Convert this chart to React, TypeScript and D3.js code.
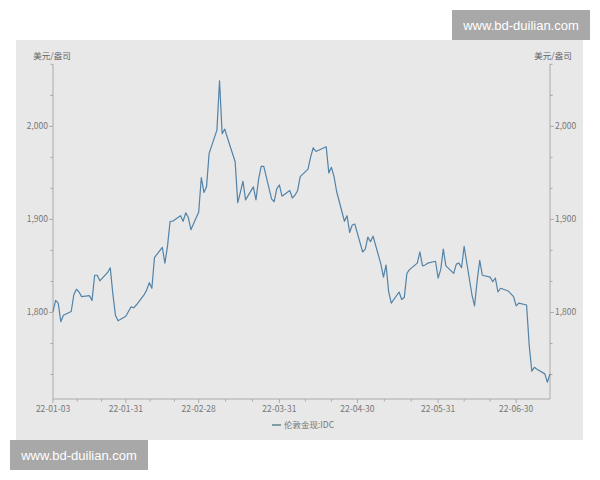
import React from "react";
import * as d3 from "d3";

const dates = [
  "2022-01-03","2022-01-04","2022-01-05","2022-01-06","2022-01-07","2022-01-10","2022-01-11","2022-01-12","2022-01-13","2022-01-14",
  "2022-01-17","2022-01-18","2022-01-19","2022-01-20","2022-01-21","2022-01-24","2022-01-25","2022-01-26","2022-01-27","2022-01-28",
  "2022-01-31","2022-02-01","2022-02-02","2022-02-03","2022-02-04","2022-02-07","2022-02-08","2022-02-09","2022-02-10","2022-02-11",
  "2022-02-14","2022-02-15","2022-02-16","2022-02-17","2022-02-18","2022-02-21","2022-02-22","2022-02-23","2022-02-24","2022-02-25",
  "2022-02-28","2022-03-01","2022-03-02","2022-03-03","2022-03-04","2022-03-07","2022-03-08","2022-03-09","2022-03-10","2022-03-11",
  "2022-03-14","2022-03-15","2022-03-16","2022-03-17","2022-03-18","2022-03-21","2022-03-22","2022-03-23","2022-03-24","2022-03-25",
  "2022-03-28","2022-03-29","2022-03-30","2022-03-31","2022-04-01","2022-04-04","2022-04-05","2022-04-06","2022-04-07","2022-04-08",
  "2022-04-11","2022-04-12","2022-04-13","2022-04-14","2022-04-18","2022-04-19","2022-04-20","2022-04-21","2022-04-22","2022-04-25",
  "2022-04-26","2022-04-27","2022-04-28","2022-04-29","2022-05-02","2022-05-03","2022-05-04","2022-05-05","2022-05-06","2022-05-09",
  "2022-05-10","2022-05-11","2022-05-12","2022-05-13","2022-05-16","2022-05-17","2022-05-18","2022-05-19","2022-05-20","2022-05-23",
  "2022-05-24","2022-05-25","2022-05-26","2022-05-27","2022-05-30","2022-05-31","2022-06-01","2022-06-02","2022-06-03","2022-06-06",
  "2022-06-07","2022-06-08","2022-06-09","2022-06-10","2022-06-13","2022-06-14","2022-06-15","2022-06-16","2022-06-17","2022-06-20",
  "2022-06-21","2022-06-22","2022-06-23","2022-06-24","2022-06-27","2022-06-28","2022-06-29","2022-06-30","2022-07-01","2022-07-04",
  "2022-07-05","2022-07-06","2022-07-07","2022-07-08","2022-07-11","2022-07-12","2022-07-13",
];

const values = [
  1801,1813,1810,1790,1797,1801,1819,1825,1822,1817,
  1818,1813,1840,1840,1834,1843,1848,1820,1797,1791,
  1796,1801,1806,1805,1808,1819,1824,1832,1826,1859,
  1870,1853,1871,1898,1898,1904,1898,1907,1902,1889,
  1908,1945,1929,1935,1971,1996,2049,1992,1997,1988,
  1962,1918,1929,1941,1921,1935,1921,1943,1957,1957,
  1922,1919,1933,1937,1925,1931,1923,1926,1931,1946,
  1954,1967,1977,1973,1978,1950,1956,1946,1930,1898,
  1904,1886,1894,1895,1865,1868,1881,1876,1882,1852,
  1838,1851,1822,1810,1822,1814,1816,1842,1846,1853,
  1865,1850,1851,1853,1855,1837,1846,1868,1850,1842,
  1852,1853,1848,1871,1819,1807,1834,1856,1840,1838,
  1833,1837,1822,1826,1823,1820,1817,1807,1810,1808,
  1765,1737,1741,1739,1734,1725,1734,
];

const xTickDates = ["2022-01-03","2022-01-31","2022-02-28","2022-03-31","2022-04-30","2022-05-31","2022-06-30"];
const xTickLabels = ["22-01-03","22-01-31","22-02-28","22-03-31","22-04-30","22-05-31","22-06-30"];
const yTicks = [1800, 1900, 2000];
const yTickLabels = ["1,800", "1,900", "2,000"];
const unitLabel = "美元/盎司";
const seriesName = "伦敦金现:IDC";
const watermark = "www.bd-duilian.com";

const parse = d3.timeParse("%Y-%m-%d");

export default function App() {
  const L = 53, R = 550, T = 64, B = 399;
  const x = d3.scaleTime().domain([parse("2022-01-03")!, parse("2022-07-13")!]).range([L, R]);
  const y = d3.scaleLinear().domain([1707, 2067]).range([B, T]);
  const pts = dates.map((d, i) => [parse(d)!, values[i]] as [Date, number]);
  const line = d3.line<[Date, number]>().x(d => x(d[0])).y(d => y(d[1]));

  // minor y ticks at thirds
  const yMinor: number[] = [];
  for (let v = 1700; v <= 2067; v += 100) {
    [1 / 3, 2 / 3].forEach(f => {
      const m = v + 100 * f;
      if (m > 1707 && m < 2067) yMinor.push(m);
    });
  }
  if (2000 + 100 / 3 < 2067) yMinor.push(2000 + 100 / 3);

  const xMajor = xTickDates.map(d => parse(d)!);
  const xMinor: Date[] = [];
  for (let i = 0; i < xMajor.length - 1; i++) {
    const a = xMajor[i].getTime(), b = xMajor[i + 1].getTime();
    xMinor.push(new Date(a + (b - a) / 3), new Date(a + (2 * (b - a)) / 3));
  }

  const axisColor = "#aaaaaa";
  const textColor = "#777777";
  const font = "'Noto Sans CJK SC', 'Noto Sans', sans-serif";

  return (
    <svg width={600} height={480} style={{ position: "absolute", left: 0, top: 0, background: "#ffffff" }}>
      <rect x={0} y={0} width={600} height={480} fill="#ffffff" />
      <rect x={16} y={40} width={567} height={400} fill="#e8e8e8" />

      {/* unit labels */}
      <text x={52} y={59} fontSize={8.5} fill="#666" textAnchor="middle" fontFamily={font}>{unitLabel}</text>
      <text x={553} y={59} fontSize={8.5} fill="#666" textAnchor="middle" fontFamily={font}>{unitLabel}</text>

      {/* left axis */}
      <line x1={L} x2={L} y1={T} y2={B} stroke={axisColor} strokeWidth={1} />
      {yTicks.map((t, i) => (
        <g key={"ly" + t}>
          <line x1={L - 4} x2={L} y1={y(t)} y2={y(t)} stroke={axisColor} />
          <text x={L - 5} y={y(t)} dy="0.35em" fontSize={8.5} fill={textColor} textAnchor="end" fontFamily={font}>{yTickLabels[i]}</text>
        </g>
      ))}
      {yMinor.map(t => (
        <line key={"lym" + t} x1={L - 2.5} x2={L} y1={y(t)} y2={y(t)} stroke={axisColor} />
      ))}

      {/* right axis */}
      <line x1={R} x2={R} y1={T} y2={B} stroke={axisColor} strokeWidth={1} />
      {yTicks.map((t, i) => (
        <g key={"ry" + t}>
          <line x1={R} x2={R + 4} y1={y(t)} y2={y(t)} stroke={axisColor} />
          <text x={R + 5} y={y(t)} dy="0.35em" fontSize={8.5} fill={textColor} textAnchor="start" fontFamily={font}>{yTickLabels[i]}</text>
        </g>
      ))}
      {yMinor.map(t => (
        <line key={"rym" + t} x1={R} x2={R + 2.5} y1={y(t)} y2={y(t)} stroke={axisColor} />
      ))}

      {/* x axis */}
      <line x1={L} x2={R} y1={B} y2={B} stroke={axisColor} strokeWidth={1} />
      {xMajor.map((d, i) => (
        <g key={"x" + i}>
          <line x1={x(d)} x2={x(d)} y1={B} y2={B + 4} stroke={axisColor} />
          <text x={x(d)} y={B + 10} dy="0.35em" fontSize={8.5} fill={textColor} textAnchor="middle" fontFamily={font}>{xTickLabels[i]}</text>
        </g>
      ))}
      {xMinor.map((d, i) => (
        <line key={"xm" + i} x1={x(d)} x2={x(d)} y1={B} y2={B + 2.5} stroke={axisColor} />
      ))}

      {/* series */}
      <path d={line(pts) || ""} fill="none" stroke="#5283a8" strokeWidth={1.2} strokeLinejoin="round" />

      {/* legend */}
      <line x1={272} x2={281} y1={425} y2={425} stroke="#5e8686" strokeWidth={1.5} />
      <text x={284} y={425} dy="0.35em" fontSize={8.5} fill={textColor} fontFamily={font}>{seriesName}</text>

      {/* watermarks */}
      <rect x={452} y={10} width={138} height={30} fill="#a8a8a8" />
      <text x={521} y={25} dy="0.35em" fontSize={13} fill="#ffffff" textAnchor="middle" fontFamily="'Liberation Sans', Arial, sans-serif">{watermark}</text>
      <rect x={10} y={440} width={138} height={30} fill="#a8a8a8" />
      <text x={79} y={455} dy="0.35em" fontSize={13} fill="#ffffff" textAnchor="middle" fontFamily="'Liberation Sans', Arial, sans-serif">{watermark}</text>
    </svg>
  );
}
